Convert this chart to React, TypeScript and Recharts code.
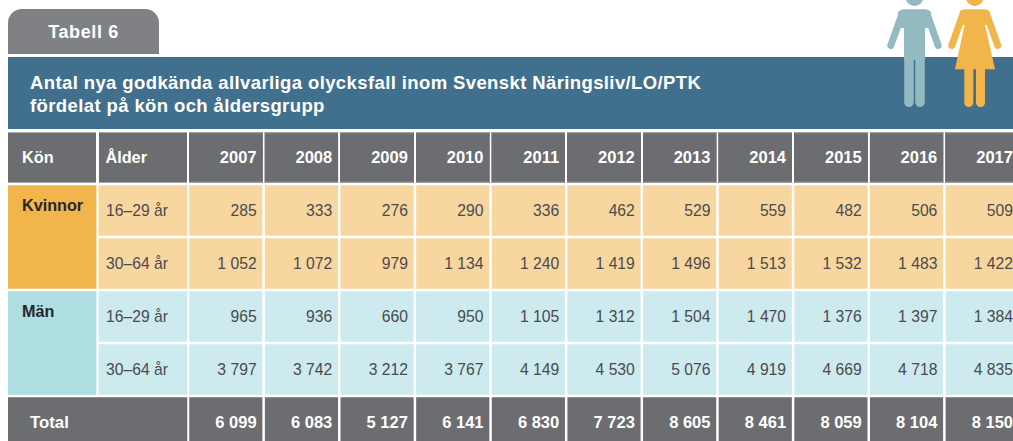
import React from 'react';
import { ScatterChart, Scatter, XAxis, YAxis } from 'recharts';

const years = ['2007', '2008', '2009', '2010', '2011', '2012', '2013', '2014', '2015', '2016', '2017'];
const rowKeys = ['K16', 'K30', 'M16', 'M30', 'Total'];
const ageLabels = ['16–29 år', '30–64 år', '16–29 år', '30–64 år', ''];

const women1629 = [285, 333, 276, 290, 336, 462, 529, 559, 482, 506, 509];
const women3064 = [1052, 1072, 979, 1134, 1240, 1419, 1496, 1513, 1532, 1483, 1422];
const men1629 = [965, 936, 660, 950, 1105, 1312, 1504, 1470, 1376, 1397, 1384];
const men3064 = [3797, 3742, 3212, 3767, 4149, 4530, 5076, 4919, 4669, 4718, 4835];
const totals = [6099, 6083, 5127, 6141, 6830, 7723, 8605, 8461, 8059, 8104, 8150];

const series = [women1629, women3064, men1629, men3064, totals];

const cells = rowKeys.flatMap((row, r) =>
  years.map((year, i) => ({ year, row, value: series[r][i] }))
);

const FONT = '"Liberation Sans", Arial, sans-serif';
const CHART_W = 1020;
const CHART_H = 449;
const LEFT = 188;
const TOP = 131;
const HEAD = 53;
const COL = (CHART_W - LEFT) / years.length;
const ROW = (CHART_H - TOP - HEAD) / rowKeys.length;
const GAP = 2.5;

const GREY = '#6c6d70';
const EDGE = '#a7a8aa';
const fills: Record<string, string> = {
  K16: '#f8d69f',
  K30: '#f8d69f',
  M16: '#cdeaee',
  M30: '#cdeaee',
  Total: GREY,
};

const fmt = (n: number) => String(n).replace(/\B(?=(\d{3})+$)/g, ' ');

const Cell = (props: any) => {
  const { cx, cy, payload } = props;
  const total = payload.row === 'Total';
  return (
    <g>
      <rect x={cx - COL / 2 + GAP / 2} y={cy - ROW / 2 + GAP / 2} width={COL - GAP} height={ROW - GAP} fill={fills[payload.row]} />
      <text
        x={cx + COL / 2 - 7}
        y={cy + 5.5}
        textAnchor="end"
        fontFamily={FONT}
        fontSize={total ? 16.5 : 15.7}
        fontWeight={total ? 700 : 400}
        fill={total ? '#ffffff' : '#4a4b4f'}
      >
        {fmt(payload.value)}
      </text>
    </g>
  );
};

const HeadCell = ({ x, width, label }: any) => {
  const top = TOP + GAP / 2;
  const h = HEAD - GAP;
  return (
    <g>
      <rect x={x} y={top} width={width} height={h} fill={GREY} />
      <rect x={x} y={top} width={width} height={1} fill={EDGE} />
      <rect x={x} y={top + h - 1} width={width} height={1} fill={EDGE} />
      <text x={x + width - 5.8} y={top + h / 2 + 5.5} textAnchor="end" fontFamily={FONT} fontSize={16.5} fontWeight={700} fill="#fff">
        {label}
      </text>
    </g>
  );
};

const YearTick = ({ x, payload }: any) => (
  <HeadCell x={x - COL / 2 + GAP / 2} width={COL - GAP} label={payload.value} />
);

const RowTick = ({ y, payload }: any) => {
  const r = rowKeys.indexOf(payload.value);
  const rowTop = y - ROW / 2 + GAP / 2;
  const h = ROW - GAP;
  if (payload.value === 'Total') {
    return (
      <g>
        <rect x={8} y={rowTop} width={LEFT - 8 - GAP / 2 + 0.5} height={h} fill={GREY} />
        <text x={30} y={y + 5.5} fontFamily={FONT} fontSize={16.8} fontWeight={700} fill="#fff">Total</text>
      </g>
    );
  }
  const first = r % 2 === 0;
  const women = r < 2;
  return (
    <g>
      {first && (
        <g>
          <rect x={8} y={rowTop} width={88.4} height={ROW * 2 - GAP} fill={women ? '#f2b54c' : '#aedde2'} />
          <text x={22} y={y} fontFamily={FONT} fontSize={16.2} fontWeight={700} fill="#26262a">
            {women ? 'Kvinnor' : 'Män'}
          </text>
        </g>
      )}
      <rect x={98.6} y={rowTop} width={LEFT - 98.6 - GAP / 2 + 0.5} height={h} fill={fills[payload.value]} />
      <text x={106} y={y + 5.5} fontFamily={FONT} fontSize={15.7} fill="#4a4b4f">{ageLabels[r]}</text>
    </g>
  );
};

const People = () => (
  <svg width={1013} height={120} style={{ position: 'absolute', left: 0, top: 0 }}>
    <g fill="#92bac0" stroke="none">
      <circle cx={914.5} cy={-3} r={9} />
      <path d="M904 9.3 H925 Q929 9.3 931 12 L930 28 L925 28 V60 H904 V28 L899 28 L898 12 Q900 9.3 904 9.3 Z" />
    </g>
    <g fill="none" stroke="#92bac0" strokeLinecap="round">
      <path d="M902 14 L890.8 45.5 M927 14 L938.2 45.5" strokeWidth={7} />
      <path d="M909 58 V102.3 M920 58 V102.3" strokeWidth={9.5} />
    </g>
    <g fill="#f2b54c" stroke="none">
      <circle cx={974.7} cy={-3} r={9} />
      <path d="M965 9.3 H984.5 Q988 9.3 990 12 L988 25 L985 25 L995 69.3 H955 L964.5 25 L961.5 25 L959.5 12 Q961 9.3 965 9.3 Z" />
    </g>
    <g fill="none" stroke="#f2b54c" strokeLinecap="round">
      <path d="M963 14 L951.8 45.5 M986.5 14 L997.7 45.5" strokeWidth={7} />
      <path d="M968.8 66 V102.5 M980.5 66 V102.5" strokeWidth={9} />
    </g>
  </svg>
);

const labelCell: React.CSSProperties = {
  position: 'absolute',
  color: '#fff',
  fontWeight: 700,
  fontSize: 16.3,
  whiteSpace: 'nowrap',
};

export default function App() {
  return (
    <div style={{ position: 'fixed', left: 0, top: 0, width: 1013, height: 441, overflow: 'hidden', background: '#fff', fontFamily: FONT }}>
      <div style={{ position: 'absolute', left: 8, top: 9, width: 151, height: 45, background: '#808184', borderRadius: '14px 14px 0 0', color: '#fff', fontWeight: 700, fontSize: 18, letterSpacing: 0.6, lineHeight: '47px', textAlign: 'center' }}>
        Tabell 6
      </div>
      <div style={{ position: 'absolute', left: 8, top: 57, width: 1005, height: 72, background: '#41708f', color: '#fff', fontWeight: 700, fontSize: 18.5, letterSpacing: 0.39, lineHeight: '23px' }}>
        <div style={{ position: 'absolute', left: 22, top: 14, whiteSpace: 'nowrap' }}>
          Antal nya godkända allvarliga olycksfall inom Svenskt Näringsliv/LO/PTK
          <br />
          fördelat på kön och åldersgrupp
        </div>
      </div>
      <div style={{ position: 'absolute', left: 0, top: 0 }}>
        <ScatterChart width={CHART_W} height={CHART_H} margin={{ top: TOP, right: 0, bottom: 0, left: 0 }}>
          <XAxis
            xAxisId={0}
            dataKey="year"
            type="category"
            orientation="top"
            scale="band"
            height={HEAD}
            allowDuplicatedCategory={false}
            interval={0}
            axisLine={false}
            tickLine={false}
            tick={<YearTick />}
          />
          <YAxis
            yAxisId={0}
            dataKey="row"
            type="category"
            scale="band"
            width={LEFT}
            allowDuplicatedCategory={false}
            interval={0}
            reversed
            axisLine={false}
            tickLine={false}
            tick={<RowTick />}
          />
          <Scatter data={cells} shape={<Cell />} isAnimationActive={false} />
        </ScatterChart>
      </div>
      <People />
      {[{ left: 8, w: 88.4, label: 'Kön', pad: 14 }, { left: 98.6, w: 88.7, label: 'Ålder', pad: 6.8 }].map((c) => (
        <div key={c.label} style={{ position: 'absolute', left: c.left, top: TOP + GAP / 2, width: c.w, height: HEAD - GAP, background: GREY, borderTop: `1px solid ${EDGE}`, borderBottom: `1px solid ${EDGE}`, boxSizing: 'border-box' }}>
          <span style={{ ...labelCell, left: c.pad, top: 13.5, lineHeight: '21px' }}>{c.label}</span>
        </div>
      ))}
    </div>
  );
}
